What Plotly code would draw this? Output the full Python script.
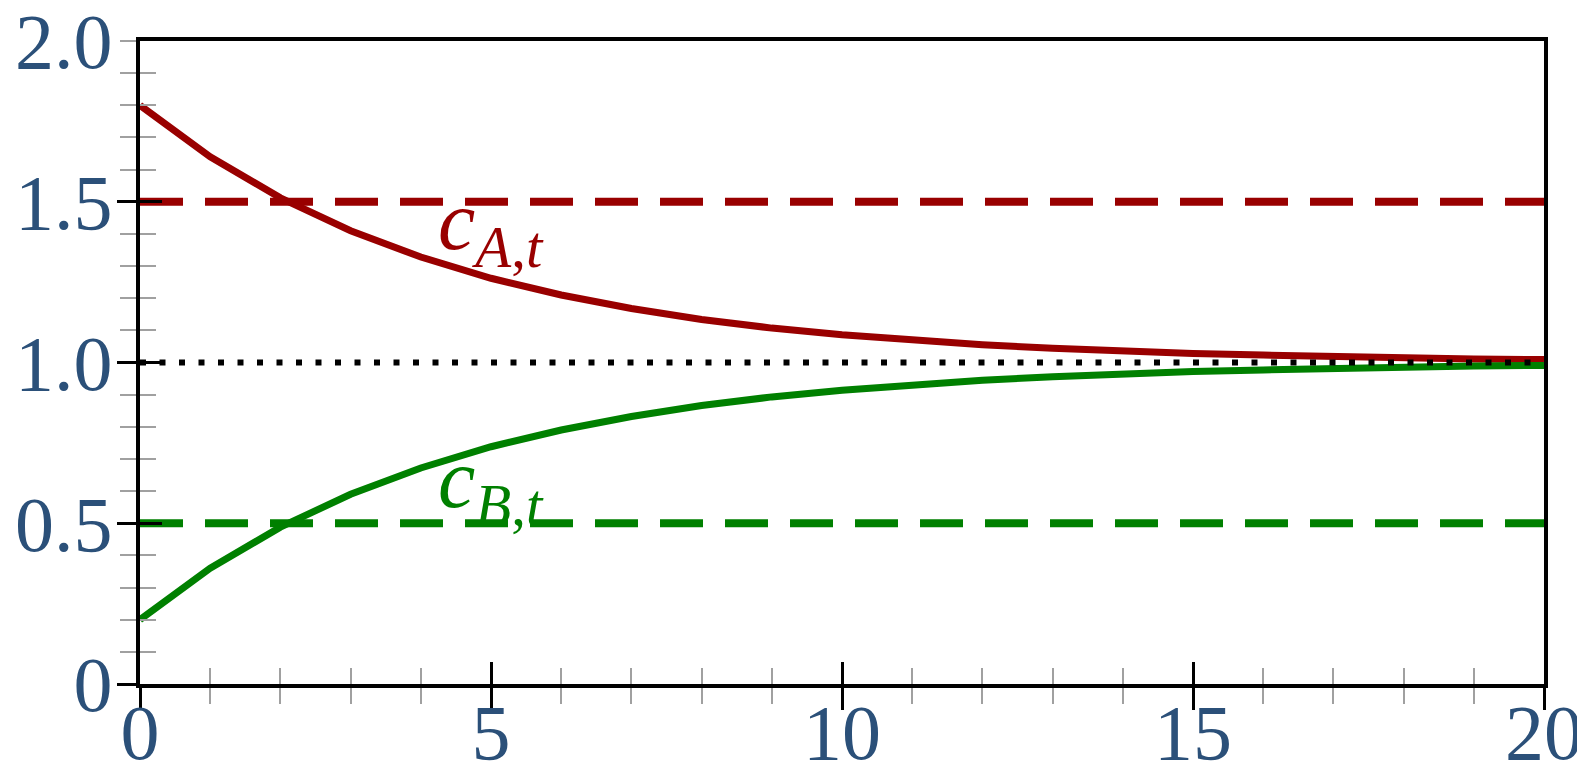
import plotly.graph_objects as go

t = list(range(21))
c_A = [1.80, 1.64, 1.512, 1.41, 1.328, 1.262, 1.21, 1.168, 1.134, 1.107, 1.086,
       1.069, 1.055, 1.044, 1.035, 1.028, 1.023, 1.018, 1.014, 1.011, 1.009]
c_B = [0.20, 0.36, 0.488, 0.59, 0.672, 0.738, 0.79, 0.832, 0.866, 0.893, 0.914,
       0.931, 0.945, 0.956, 0.965, 0.972, 0.977, 0.982, 0.986, 0.989, 0.991]
level_A = 1.5
level_B = 0.5
level_mid = 1.0
x_range = [0, 20]
y_range = [0, 2]
x_ticks = [0, 5, 10, 15, 20]
x_ticktext = ["0", "5", "10", "15", "20"]
y_ticks = [0, 0.5, 1.0, 1.5, 2.0]
y_ticktext = ["0", "0.5", "1.0", "1.5", "2.0"]
label_A = "<i>c</i><sub><i>A</i>,<i>t</i></sub>"
label_B = "<i>c</i><sub><i>B</i>,<i>t</i></sub>"
label_A_pos = (5.0, 1.42)
label_B_pos = (5.0, 0.62)

RED = "#990000"
GREEN = "#008000"
BLUE = "#2b5079"
FONT = "Liberation Serif"
GRAY = "#a0a0a0"

fig = go.Figure()
fig.add_trace(go.Scatter(x=x_range, y=[level_A, level_A], mode="lines",
                         line=dict(color=RED, width=8, dash="43px,22px"), hoverinfo="skip"))
fig.add_trace(go.Scatter(x=x_range, y=[level_B, level_B], mode="lines",
                         line=dict(color=GREEN, width=8, dash="43px,22px"), hoverinfo="skip"))
fig.add_trace(go.Scatter(x=t, y=c_A, mode="lines", line=dict(color=RED, width=7)))
fig.add_trace(go.Scatter(x=t, y=c_B, mode="lines", line=dict(color=GREEN, width=7)))
fig.add_trace(go.Scatter(x=x_range, y=[level_mid, level_mid], mode="lines",
                         line=dict(color="black", width=6, dash="6px,13.5px"), hoverinfo="skip"))

fig.add_annotation(x=label_A_pos[0], y=label_A_pos[1], text=label_A, showarrow=False,
                   font=dict(family=FONT, size=84, color=RED), xanchor="center", yanchor="middle")
fig.add_annotation(x=label_B_pos[0], y=label_B_pos[1], text=label_B, showarrow=False,
                   font=dict(family=FONT, size=84, color=GREEN), xanchor="center", yanchor="middle")

fig.update_layout(
    width=1577, height=757,
    margin=dict(l=132, r=41, t=33, b=81, autoexpand=False),
    paper_bgcolor="white", plot_bgcolor="white",
    showlegend=False,
    xaxis=dict(range=x_range, showgrid=False, zeroline=False, automargin=False,
               showline=True, linecolor="black", linewidth=4, mirror=True,
               tickmode="array", tickvals=x_ticks, ticktext=x_ticktext,
               ticks="outside", ticklen=22, tickwidth=3, tickcolor="black",
               ticklabelstandoff=-45, ticklabeloverflow="allow",
               tickfont=dict(family=FONT, size=78, color=BLUE),
               minor=dict(dtick=1, tick0=0, ticks="outside", ticklen=16, tickwidth=2,
                          tickcolor=GRAY, showgrid=False)),
    xaxis2=dict(range=x_range, overlaying="x", anchor="y", side="bottom", automargin=False,
                showgrid=False, zeroline=False, showline=False, showticklabels=False,
                tickmode="array", tickvals=x_ticks[1:-1],
                ticks="inside", ticklen=22, tickwidth=3, tickcolor="black",
                minor=dict(dtick=1, tick0=0, ticks="inside", ticklen=16, tickwidth=2,
                           tickcolor=GRAY, showgrid=False)),
    yaxis=dict(range=y_range, showgrid=False, zeroline=False, automargin=False,
               showline=True, linecolor="black", linewidth=4, mirror=True,
               tickmode="array", tickvals=y_ticks, ticktext=y_ticktext,
               ticks="", ticklabelstandoff=8, ticklabeloverflow="allow",
               tickfont=dict(family=FONT, size=78, color=BLUE),
               minor=dict(dtick=0.1, tick0=0, ticks="outside", ticklen=16, tickwidth=2,
                          tickcolor=GRAY, showgrid=False)),
    yaxis2=dict(range=y_range, overlaying="y", anchor="x", side="left", automargin=False,
                showgrid=False, zeroline=False, showline=False, showticklabels=False,
                tickmode="array", tickvals=y_ticks[:-1],
                ticks="outside", ticklen=22, tickwidth=3, tickcolor="black"),
    yaxis3=dict(range=y_range, overlaying="y", anchor="x", side="left", automargin=False,
                showgrid=False, zeroline=False, showline=False, showticklabels=False,
                tickmode="array", tickvals=y_ticks[1:-1],
                ticks="inside", ticklen=22, tickwidth=3, tickcolor="black",
                minor=dict(dtick=0.1, tick0=0, ticks="inside", ticklen=16, tickwidth=2,
                           tickcolor=GRAY, showgrid=False)),
)
fig.add_trace(go.Scatter(x=[None], y=[None], xaxis="x2", yaxis="y", showlegend=False))
fig.add_trace(go.Scatter(x=[None], y=[None], xaxis="x", yaxis="y2", showlegend=False))
fig.add_trace(go.Scatter(x=[None], y=[None], xaxis="x", yaxis="y3", showlegend=False))

fig.write_html("out.html")
